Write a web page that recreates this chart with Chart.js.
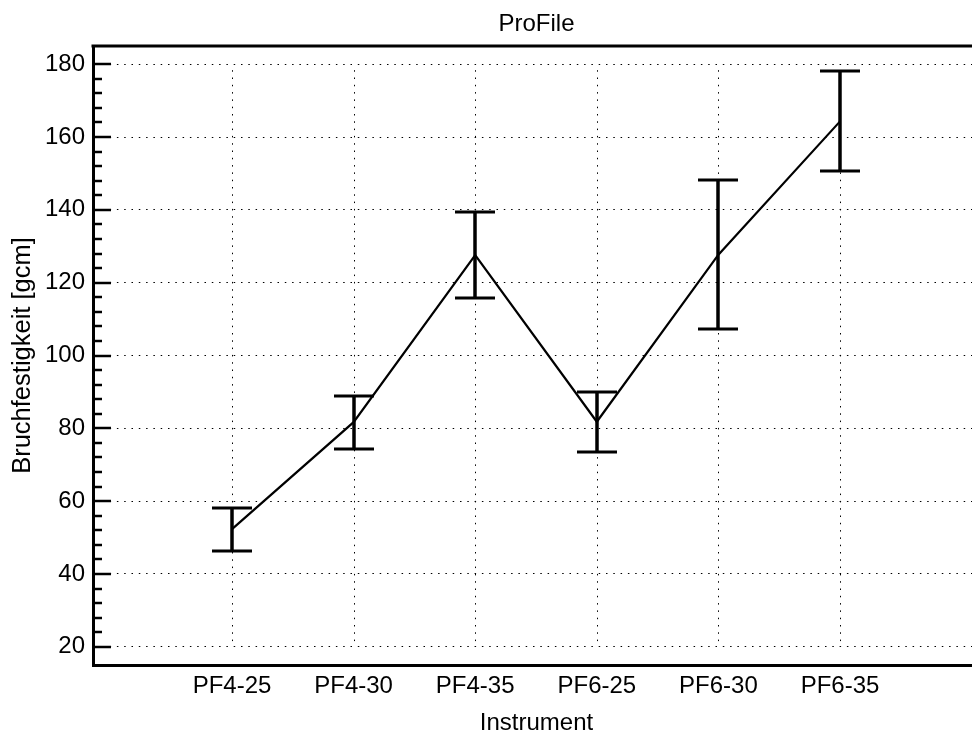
<!DOCTYPE html>
<html>
<head>
<meta charset="utf-8">
<title>ProFile</title>
<script src="https://cdn.jsdelivr.net/npm/chart.js@4.4.1/dist/chart.umd.min.js"></script>
<style>
    html, body { margin: 0; padding: 0; overflow: hidden; background: #fff; }
    canvas { display: block; }
</style>
</head>
<body>
<canvas id="profileChart" width="980" height="735"></canvas>
<script>
// ==================== Data ====================
const categories = ['PF4-25', 'PF4-30', 'PF4-35', 'PF6-25', 'PF6-30', 'PF6-35'];
const means = [52.3, 81.7, 127.6, 81.8, 127.7, 164.3];
const errors = [5.9, 7.3, 11.9, 8.3, 20.5, 13.7];
const yTicks = [20, 40, 60, 80, 100, 120, 140, 160, 180];
const yMinorStep = 4;

const FONT = 'Liberation Sans, Arial, Helvetica, sans-serif';
const DOTS = [1.5, 5.8];

// Frame top line, inner y ticks and short vertical dotted grid
const framePlugin = {
    id: 'frame',
    beforeDatasetsDraw(chart) {
        const { ctx, chartArea: a, scales: { x, y } } = chart;
        ctx.save();
        ctx.strokeStyle = '#000';

        // vertical dotted grid only between first and last y tick
        ctx.lineWidth = 1;
        ctx.setLineDash(DOTS);
        const yTop = y.getPixelForValue(yTicks[yTicks.length - 1]);
        const yBot = y.getPixelForValue(yTicks[0]);
        categories.forEach((c, i) => {
            const px = Math.round(x.getPixelForValue(i)) + 0.5;
            ctx.beginPath();
            ctx.moveTo(px, yTop + 6);
            ctx.lineTo(px, yBot);
            ctx.stroke();
        });
        ctx.setLineDash([]);

        // tick marks pointing into the plot
        ctx.lineWidth = 2.5;
        for (let v = yTicks[0]; v <= yTicks[yTicks.length - 1]; v += yMinorStep) {
            const py = Math.round(y.getPixelForValue(v));
            const len = yTicks.includes(v) ? 18 : 9;
            ctx.beginPath();
            ctx.moveTo(a.left, py);
            ctx.lineTo(a.left + len, py);
            ctx.stroke();
        }

        // top frame line
        ctx.lineWidth = 3;
        ctx.beginPath();
        ctx.moveTo(a.left - 1.5, a.top);
        ctx.lineTo(a.right, a.top);
        ctx.stroke();
        ctx.restore();
    }
};

const errorBarPlugin = {
    id: 'errorBars',
    afterDatasetsDraw(chart) {
        const { ctx, scales: { x, y } } = chart;
        ctx.save();
        ctx.strokeStyle = '#000';
        means.forEach((m, i) => {
            const px = Math.round(x.getPixelForValue(i));
            const top = Math.round(y.getPixelForValue(m + errors[i]));
            const bot = Math.round(y.getPixelForValue(m - errors[i]));
            ctx.lineWidth = 3.5;
            ctx.beginPath();
            ctx.moveTo(px, top);
            ctx.lineTo(px, bot);
            ctx.stroke();
            ctx.lineWidth = 3;
            ctx.beginPath();
            ctx.moveTo(px - 20, top);
            ctx.lineTo(px + 20, top);
            ctx.moveTo(px - 20, bot);
            ctx.lineTo(px + 20, bot);
            ctx.stroke();
        });
        ctx.restore();
    }
};

new Chart(document.getElementById('profileChart'), {
    type: 'line',
    data: {
        datasets: [{
            data: means.map((m, i) => ({ x: i, y: m })),
            borderColor: '#000',
            borderWidth: 2.2,
            pointRadius: 0,
            tension: 0,
            fill: false
        }]
    },
    options: {
        responsive: false,
        animation: false,
        layout: { padding: 0 },
        plugins: {
            legend: { display: false },
            tooltip: { enabled: false },
            title: {
                display: true,
                text: 'ProFile',
                fullSize: false,
                color: '#000',
                font: { family: FONT, size: 24, weight: 'normal', lineHeight: 1.2 },
                padding: { top: 10, bottom: 7.2 }
            }
        },
        scales: {
            x: {
                type: 'linear',
                bounds: 'data',
                min: -1.143,
                max: 6.151,
                afterBuildTicks: s => { s.ticks = categories.map((c, i) => ({ value: i })); },
                afterFit: s => { s.height = 70; },
                ticks: {
                    callback: v => categories[v] ?? '',
                    color: '#000',
                    font: { family: FONT, size: 24 },
                    padding: 7,
                    maxRotation: 0,
                    autoSkip: false
                },
                grid: { display: false, drawTicks: false },
                border: { display: true, color: '#000', width: 3 },
                title: {
                    display: true,
                    text: 'Instrument',
                    color: '#000',
                    font: { family: FONT, size: 24, lineHeight: 1.0 },
                    padding: { top: 0, bottom: 0 }
                }
            },
            y: {
                type: 'linear',
                bounds: 'data',
                min: 15,
                max: 185,
                afterBuildTicks: s => { s.ticks = yTicks.map(v => ({ value: v })); },
                afterFit: s => { s.width = 93; },
                ticks: {
                    color: '#000',
                    font: { family: FONT, size: 24 },
                    padding: 8
                },
                grid: { color: '#000', lineWidth: 1, drawTicks: false },
                border: { display: true, color: '#000', width: 3, dash: DOTS },
                title: {
                    display: true,
                    text: 'Bruchfestigkeit [gcm]',
                    color: '#000',
                    font: { family: FONT, size: 25.5, lineHeight: 1.0 },
                    padding: { top: 10, bottom: 0 }
                }
            }
        }
    },
    plugins: [framePlugin, errorBarPlugin]
});
</script>
</body>
</html>
